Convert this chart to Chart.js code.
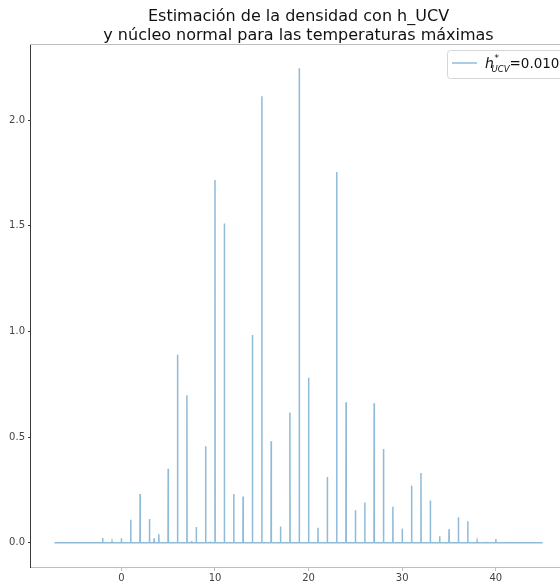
<!DOCTYPE html>
<html>
<head>
<meta charset="utf-8">
<script src="https://cdn.jsdelivr.net/npm/chart.js@4/dist/chart.umd.min.js"></script>
<style>
  html, body { margin: 0; padding: 0; background: #fff; overflow: hidden; }
  #wrap { width: 570px; height: 585px; }
</style>
</head>
<body>
<div id="wrap"><canvas id="kde"></canvas></div>
<script>
// temperature values where the estimate spikes, and the peak height read at each
const peakX = [-2, -1, 0, 1, 2, 3, 3.5, 4, 5, 6, 7, 7.5, 8, 9, 9.5, 10, 11, 12, 13, 14, 15,
               16, 17, 18, 19, 20, 21, 22, 23, 24, 25, 26, 27, 28, 29, 30, 31, 32, 33, 34,
               35, 36, 37, 38, 39, 40];
const peakY = [0.022, 0.005, 0.021, 0.109, 0.23, 0.112, 0.021, 0.04, 0.35, 0.889, 0.698, 0.008,
               0.074, 0.457, 0.006, 1.716, 1.51, 0.23, 0.219, 0.983, 2.113, 0.48, 0.077, 0.616,
               2.245, 0.78, 0.071, 0.311, 1.754, 0.665, 0.153, 0.19, 0.66, 0.443, 0.17, 0.066,
               0.27, 0.33, 0.2, 0.031, 0.064, 0.12, 0.101, 0.006, 0.004, 0.017];
const gridStart = -7.15;
const gridEnd = 45;
const xTicks = [0, 10, 20, 30, 40];
const yTicks = [0, 0.5, 1, 1.5, 2];
const titleLines = ["Estimación de la densidad con h_UCV", "y núcleo normal para las temperaturas máximas"];
const bandwidth = "0.010";

// curve sits at zero between the very narrow kernel spikes
const points = [{x: gridStart, y: 0}];
peakX.forEach((x, i) => {
    points.push({x: x - 0.02, y: 0});
    points.push({x: x, y: peakY[i]});
    points.push({x: x + 0.02, y: 0});
});
points.push({x: gridEnd, y: 0});

const lineColor = "rgba(31,119,180,0.5)";

const decorations = {
    id: "decorations",
    afterDraw(chart) {
        const ctx = chart.ctx;
        const a = chart.chartArea;
        ctx.save();
        // top spine
        ctx.strokeStyle = "#bdbdbd";
        ctx.lineWidth = 1;
        ctx.beginPath();
        ctx.moveTo(a.left, a.top + 0.5);
        ctx.lineTo(a.right, a.top + 0.5);
        ctx.stroke();

        // title
        ctx.fillStyle = "#111";
        ctx.font = "16px 'DejaVu Sans'";
        ctx.textAlign = "center";
        ctx.textBaseline = "alphabetic";
        const cx = (a.left + a.right) / 2;
        ctx.fillText(titleLines[0], cx, 21);
        ctx.fillText(titleLines[1], cx, 40);

        // legend
        const bx = 447, by = 50, bw = 130, bh = 28;
        ctx.fillStyle = "rgba(255,255,255,0.8)";
        ctx.strokeStyle = "#d6d6d6";
        ctx.beginPath();
        ctx.roundRect(bx + 0.5, by + 0.5, bw, bh, 3);
        ctx.fill();
        ctx.stroke();
        ctx.strokeStyle = lineColor;
        ctx.lineWidth = 1.5;
        ctx.beginPath();
        ctx.moveTo(452, 63);
        ctx.lineTo(477, 63);
        ctx.stroke();
        ctx.textAlign = "left";
        ctx.fillStyle = "#111";
        ctx.font = "italic 14px 'DejaVu Sans'";
        ctx.fillText("h", 485, 68);
        ctx.font = "9px 'DejaVu Sans'";
        ctx.fillText("*", 494.5, 61);
        ctx.font = "italic 8.5px 'DejaVu Sans'";
        ctx.fillText("UCV", 491.5, 72);
        ctx.font = "13.5px 'DejaVu Sans'";
        ctx.fillText("=" + bandwidth, 509.5, 68);
        ctx.restore();
    }
};

new Chart(document.getElementById("kde"), {
    type: "line",
    data: {
        datasets: [{
            data: points,
            borderColor: lineColor,
            borderWidth: 1.5,
            pointRadius: 0,
            tension: 0,
            fill: false
        }]
    },
    options: {
        responsive: true,
        maintainAspectRatio: false,
        animation: false,
        parsing: false,
        layout: { padding: { top: 44, right: 3, left: 0, bottom: 0 } },
        plugins: {
            legend: { display: false },
            tooltip: { enabled: false }
        },
        scales: {
            x: {
                type: "linear",
                min: -9.76,
                max: 47.6,
                afterBuildTicks: s => { s.ticks = xTicks.map(v => ({value: v})); },
                afterFit: s => { s.height = 18; },
                grid: { drawOnChartArea: false, drawTicks: true, tickLength: 4, color: "#bdbdbd" },
                border: { color: "#bdbdbd", width: 1 },
                ticks: {
                    padding: 1,
                    color: "#444",
                    font: { family: "DejaVu Sans", size: 10 },
                    maxRotation: 0,
                    callback: v => String(v)
                }
            },
            y: {
                type: "linear",
                min: -0.115,
                max: 2.36,
                afterBuildTicks: s => { s.ticks = yTicks.map(v => ({value: v})); },
                afterFit: s => { s.width = 30; },
                grid: { drawOnChartArea: false, drawTicks: true, tickLength: 2, color: "#3a3a3a" },
                border: { color: "#3a3a3a", width: 1 },
                ticks: {
                    padding: 3,
                    color: "#444",
                    font: { family: "DejaVu Sans", size: 10 },
                    callback: v => v.toFixed(1)
                }
            }
        }
    },
    plugins: [decorations]
});
</script>
</body>
</html>
